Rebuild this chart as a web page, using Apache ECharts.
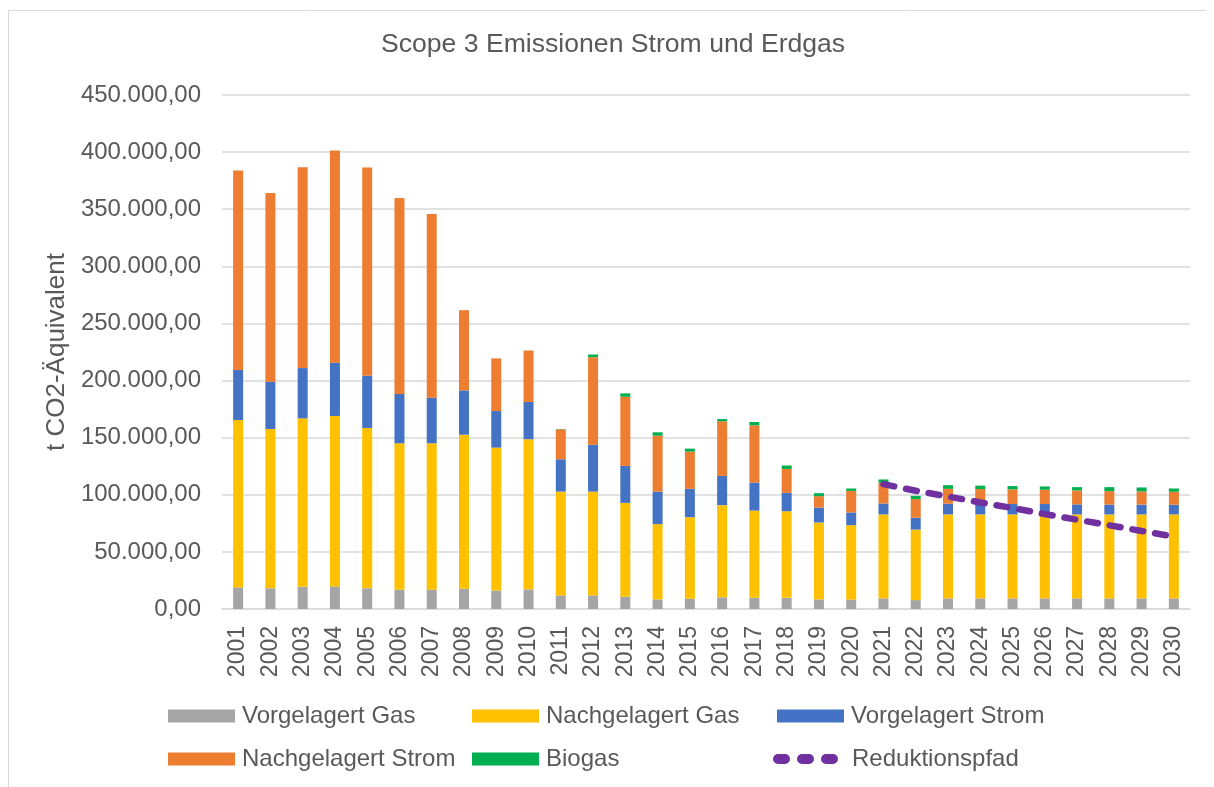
<!DOCTYPE html>
<html><head><meta charset="utf-8">
<script src="https://cdn.jsdelivr.net/npm/echarts@6/dist/echarts.min.js"></script>
<style>html,body{margin:0;padding:0;background:#fff}#c{width:1214px;height:787px}</style>
</head><body><div id="c"></div>
<script>
const years = ['2001','2002','2003','2004','2005','2006','2007','2008','2009','2010','2011','2012','2013','2014','2015','2016','2017','2018','2019','2020','2021','2022','2023','2024','2025','2026','2027','2028','2029','2030'];
const vorgelagertGas = [18900,18100,19500,19800,18100,16900,16900,17800,16300,17200,11900,11900,10800,8400,9000,10200,9900,9900,8400,8200,9300,7800,9300,9300,9300,9300,9300,9300,9300,9300];
const nachgelagertGas = [146600,139500,147400,149200,140400,128200,128200,134800,125000,131400,90900,90900,82100,65900,71400,80700,76300,75700,67300,65200,73500,61700,73500,73500,73500,73500,73500,73500,73500,73500];
const vorgelagertStrom = [43700,41400,44000,46600,45700,43100,39900,38800,32000,32600,28300,41100,32400,28500,24800,25600,24500,16100,13100,11100,9600,10400,9400,9400,9100,9100,8800,8600,8600,8500];
const nachgelagertStrom = [174700,165100,175900,185800,182400,171600,160800,70200,46100,45100,26200,76600,60500,49000,32600,47800,50100,20900,10000,18900,18400,16300,13000,12800,12800,12500,12200,11800,11500,11300];
const biogas = [0,0,0,0,0,0,0,0,0,0,300,2300,3000,2900,2600,2000,2900,3000,2600,2100,2600,2900,3200,3000,2900,2900,2900,3500,3500,2900];
const reduktionspfad = [null,null,null,null,null,null,null,null,null,null,null,null,null,null,null,null,null,null,null,null,109300,103500,98500,93300,88400,83100,78200,73300,68300,63400];

const FONT = '"Liberation Sans", Arial, sans-serif';
const TXT = '#595959';
const DASH_ICON = 'path://M5,0H12A5,5 0 0 1 12,10H5A5,5 0 0 1 5,0Z M29,0H36A5,5 0 0 1 36,10H29A5,5 0 0 1 29,0Z M53,0H60A5,5 0 0 1 60,10H53A5,5 0 0 1 53,0Z';
const chart = echarts.init(document.getElementById('c'), null, {renderer:'canvas'});
function fmt(v){
  const s = Math.round(v).toString().replace(/\B(?=(\d{3})+(?!\d))/g,'.');
  return s + ',00';
}
function barSeries(name, data, color){
  return {name, type:'bar', stack:'total', data, barWidth:10,
    itemStyle:{color}, emphasis:{disabled:true}};
}
function legendAt(name, left, top, extra){
  return Object.assign({data:[name], left, top, padding:0, icon:'rect', itemWidth:67, itemHeight:13, itemGap:0,
    textStyle:{fontFamily:FONT, fontSize:24, color:TXT, lineHeight:26, padding:[0,0,0,2]},
    selectedMode:false}, extra||{});
}
chart.setOption({
  animation:false,
  backgroundColor:'#ffffff',
  title:{text:'Scope 3 Emissionen Strom und Erdgas', left:381, top:31, padding:0,
    textStyle:{fontFamily:FONT, fontSize:26.6, fontWeight:'normal', color:TXT}},
  grid:{left:222, right:24, top:95, bottom:178, containLabel:false},
  legend:[
    legendAt('Vorgelagert Gas',168,703),
    legendAt('Nachgelagert Gas',472,703),
    legendAt('Vorgelagert Strom',777,703),
    legendAt('Nachgelagert Strom',168,746),
    legendAt('Biogas',472,746),
    legendAt('Reduktionspfad',773,746,{icon:DASH_ICON, itemWidth:65, itemHeight:10,
      textStyle:{fontFamily:FONT, fontSize:24, color:TXT, lineHeight:26, padding:[0,0,0,9]}})
  ],
  xAxis:{type:'category', data:years,
    axisLine:{show:true, lineStyle:{color:'#D9D9D9', width:1.5}},
    axisTick:{show:false},
    axisLabel:{rotate:90, fontFamily:FONT, fontSize:23, color:TXT, margin:17, interval:0}},
  yAxis:{type:'value', min:0, max:450000, interval:50000,
    name:'t CO2-Äquivalent', nameLocation:'middle', nameGap:150,
    nameTextStyle:{fontFamily:FONT, fontSize:26, color:TXT},
    axisLine:{show:false}, axisTick:{show:false},
    splitLine:{lineStyle:{color:'#D9D9D9', width:1.5}},
    axisLabel:{formatter:fmt, fontFamily:FONT, fontSize:24, color:TXT, margin:21}},
  graphic:[
    {type:'line', shape:{x1:8.5,y1:10,x2:8.5,y2:787}, style:{stroke:'#D9D9D9', lineWidth:1}},
    {type:'line', shape:{x1:8,y1:10.5,x2:1206,y2:10.5}, style:{stroke:'#D9D9D9', lineWidth:1}}
  ],
  series:[
    barSeries('Vorgelagert Gas', vorgelagertGas, '#A5A5A5'),
    barSeries('Nachgelagert Gas', nachgelagertGas, '#FFC000'),
    barSeries('Vorgelagert Strom', vorgelagertStrom, '#4472C4'),
    barSeries('Nachgelagert Strom', nachgelagertStrom, '#ED7D31'),
    barSeries('Biogas', biogas, '#00B050'),
    {name:'Reduktionspfad', type:'line', data:reduktionspfad, symbol:'none', connectNulls:false,
      lineStyle:{color:'#7030A0', width:6.5, type:[11,12], cap:'round'},
      itemStyle:{color:'#7030A0'}, emphasis:{disabled:true}, z:5}
  ]
});
</script></body></html>
